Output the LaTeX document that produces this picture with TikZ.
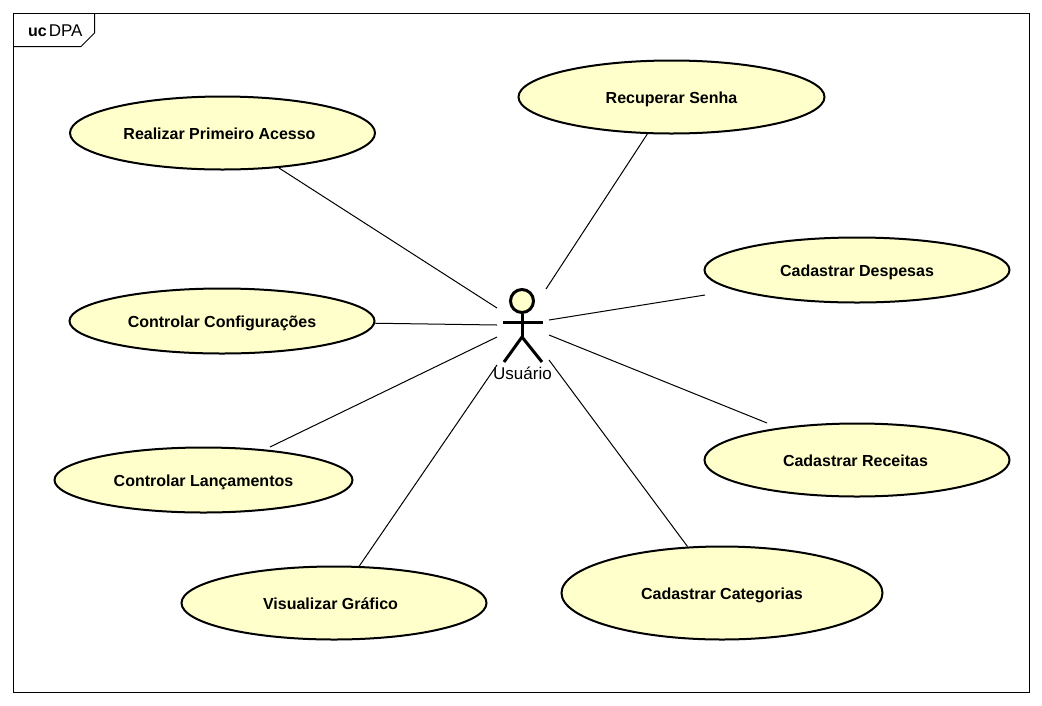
\documentclass[tikz,border=0pt]{standalone}
\usepackage{fontspec}
\setmainfont{Liberation Sans}
\usetikzlibrary{shapes.geometric}
\definecolor{ucyellow}{HTML}{FFFFCC}
\tikzset{
    usecase/.style={ellipse,draw=black,line width=2pt,fill=ucyellow,inner sep=0pt,text height=12pt,text depth=0pt,font=\fontsize{16}{18}\selectfont\bfseries},
    assoc/.style={draw=black,line width=1pt},
    actorline/.style={draw=black,line width=3pt}
}
\begin{document}
\begin{tikzpicture}[x=1pt,y=-1pt]
        \useasboundingbox (0,0) rectangle (1042,705);
        \fill[white] (0,0) rectangle (1042,705);
        \draw[line width=1pt] (13.5,13.5) rectangle (1029.5,692.5);
        \draw[line width=1pt] (13.5,46.5) -- (81,46.5) -- (94.5,33) -- (94.5,13.5);
        \node[anchor=base west,inner sep=0pt,font=\fontsize{16}{18}\selectfont] (frametitle) at (28,36) {\textbf{uc}\hspace{2pt}\fontsize{17}{18}\selectfont DPA};

        \node[usecase,minimum width=305pt,minimum height=73pt] (realizar) at (222.5,133) {Realizar Primeiro Acesso\kern6pt};
        \node[usecase,minimum width=306pt,minimum height=73pt] (recuperar) at (671.5,97) {Recuperar Senha};
        \node[usecase,minimum width=305pt,minimum height=65pt] (despesas) at (857,270) {Cadastrar Despesas};
        \node[usecase,minimum width=305pt,minimum height=65pt] (configuracoes) at (222,321) {Controlar Configurações};
        \node[usecase,minimum width=305pt,minimum height=73pt] (receitas) at (857,460) {Cadastrar Receitas\kern3pt};
        \node[usecase,minimum width=298pt,minimum height=65pt] (lancamentos) at (203.5,480) {Controlar Lançamentos};
        \node[usecase,minimum width=305pt,minimum height=73pt] (grafico) at (334,603) {Visualizar Gráfico\kern7pt};
        \node[usecase,minimum width=321pt,minimum height=93pt] (categorias) at (722,593) {Cadastrar Categorias};

        \node[circle,draw=black,line width=3pt,fill=ucyellow,minimum size=23pt,inner sep=0pt] (head) at (522,301) {};
        \coordinate (armleft) at (503,322);
        \coordinate (armright) at (543,322);
        \coordinate (hip) at (522,337);
        \coordinate (footleft) at (504,362);
        \coordinate (footright) at (542,362);
        \draw[actorline] (head) -- (hip);
        \draw[actorline] (armleft) -- (armright);
        \draw[actorline] (footleft) -- (hip) -- (footright);
        \node[inner sep=0pt,font=\fontsize{17}{18}\selectfont] (usuario) at (522.5,373) {Usuário};

        \coordinate (endrealizar) at (497,308);
        \coordinate (endconfig) at (497,325);
        \coordinate (endlanc) at (497,337);
        \coordinate (endgrafico) at (497,365);
        \coordinate (endrecuperar) at (546,289);
        \coordinate (enddespesas) at (549,320);
        \coordinate (endreceitas) at (549,335);
        \coordinate (endcategorias) at (549,360);
        \coordinate (startrealizar) at (279,168);
        \coordinate (startlanc) at (270,447);
        \coordinate (startdespesas) at (705,295);
        \coordinate (startreceitas) at (767,423);

        \draw[assoc] (startrealizar) -- (endrealizar);
        \draw[assoc] (configuracoes) -- (endconfig);
        \draw[assoc] (startlanc) -- (endlanc);
        \draw[assoc] (grafico) -- (endgrafico);
        \draw[assoc] (recuperar) -- (endrecuperar);
        \draw[assoc] (startdespesas) -- (enddespesas);
        \draw[assoc] (startreceitas) -- (endreceitas);
        \draw[assoc] (categorias) -- (endcategorias);
    \end{tikzpicture}
\end{document}
